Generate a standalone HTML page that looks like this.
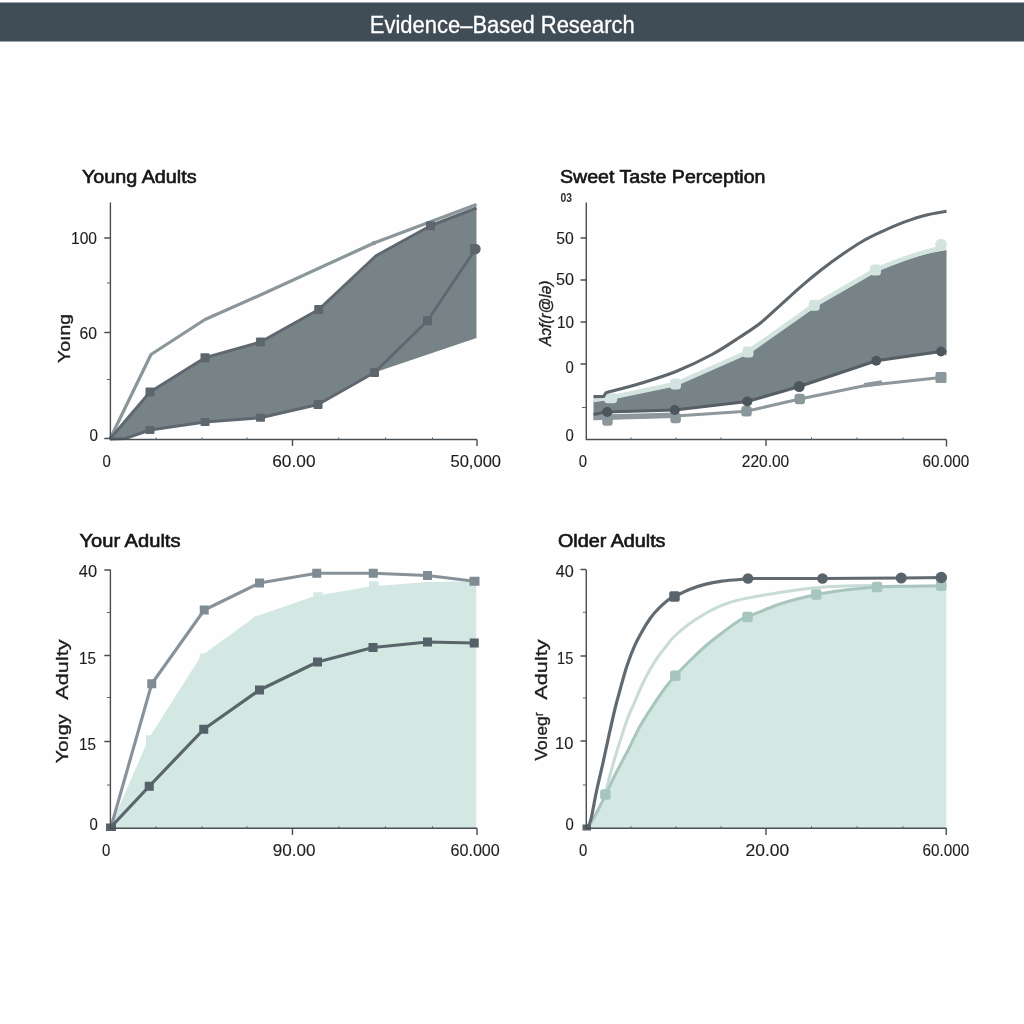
<!DOCTYPE html>
<html><head><meta charset="utf-8">
<style>
html,body{margin:0;padding:0;background:#fefefe;}
body{width:1024px;height:1024px;overflow:hidden;font-family:"Liberation Sans",sans-serif;}
svg{display:block;}
text{font-family:"Liberation Sans",sans-serif;}
.t{font-size:18px;fill:#141414;stroke:#141414;stroke-width:0.6px;}
.l{font-size:16px;fill:#1e1e1e;stroke:#1e1e1e;stroke-width:0.12px;}
.yl{font-size:17px;fill:#1c1c1c;stroke:#1c1c1c;stroke-width:0.32px;}
.ax{stroke:#474f54;stroke-width:1.4;fill:none;}
.mt{stroke:#5a6267;stroke-width:1;fill:none;}
</style></head><body>
<svg width="1024" height="1024" viewBox="0 0 1024 1024">
<defs><filter id="soft" x="-10" y="-10" width="1044" height="1044" filterUnits="userSpaceOnUse"><feGaussianBlur stdDeviation="0.4"/></filter></defs>
<g filter="url(#soft)">
<rect x="-10" y="-10" width="1044" height="1044" fill="#fefefe"/>
<rect x="-10" y="2.5" width="1044" height="39" fill="#414d56"/>
<text x="369.8" y="33" font-size="23" fill="#ffffff" stroke="#ffffff" stroke-width="0.3" textLength="265" lengthAdjust="spacingAndGlyphs">Evidence‒Based Research</text>

<g id="c1">
<text class="t" x="82" y="183" textLength="114.5" lengthAdjust="spacingAndGlyphs">Young Adults</text>
<polygon fill="#788388" points="110.00,439.00 150.00,392.00 205.00,357.75 260.50,342.00 318.75,309.50 376.00,255.75 430.50,225.75 476.50,208.00 476.50,338.00 374.50,372.50 318.00,404.50 260.50,417.75 205.00,422.00 150.00,430.00 125.00,438.50"/>
<polyline fill="none" stroke="#8b969a" stroke-width="3.2" stroke-linejoin="round" points="110.00,439.00 151.00,354.50 205.00,319.50 258.75,295.75 374.00,243.00 476.50,204.50"/>
<polyline fill="none" stroke="#5f686f" stroke-width="3" stroke-linejoin="round" points="110.00,439.00 150.00,392.00 205.00,357.75 260.50,342.00 318.75,309.50 376.00,255.75 430.50,225.75 476.50,208.00"/>
<polyline fill="none" stroke="#5f686f" stroke-width="3" stroke-linejoin="round" points="110.00,439.00 125.00,438.50 150.00,430.00 205.00,422.00 260.50,417.75 318.00,404.50 374.50,372.50 427.50,320.75 475.50,249.00"/>
<g fill="#5d666d"><rect x="145.50" y="387.50" width="9.00" height="9.00" rx="1.0"/><rect x="200.50" y="353.25" width="9.00" height="9.00" rx="1.0"/><rect x="256.00" y="337.50" width="9.00" height="9.00" rx="1.0"/><rect x="314.25" y="305.00" width="9.00" height="9.00" rx="1.0"/><rect x="426.00" y="221.25" width="9.00" height="9.00" rx="1.0"/><rect x="145.50" y="426.00" width="9.00" height="8.00" rx="1.0"/><rect x="200.50" y="418.00" width="9.00" height="8.00" rx="1.0"/><rect x="256.00" y="413.75" width="9.00" height="8.00" rx="1.0"/><rect x="313.50" y="400.00" width="9.00" height="9.00" rx="1.0"/><rect x="370.00" y="368.00" width="9.00" height="9.00" rx="1.0"/><rect x="423.00" y="316.25" width="9.00" height="9.00" rx="1.0"/><circle cx="475.50" cy="249.00" r="5.20"/><rect x="470" y="244" width="7" height="10"/></g>
<g fill="#8b969a"><circle cx="374.00" cy="243.00" r="2.20"/></g>
<path class="ax" d="M110.4,202.5V439.5H477"/>
<path class="ax" d="M104.3,238H110M104.3,332.5H110M104.3,438.5H110M292.5,439.5V446M477,439.5V446"/>
<path class="mt" d="M107,283H110M107,379.5H110M156,437.4V439.5M202,437.4V439.5M247,437.4V439.5M338.75,437.4V439.5M385.5,437.4V439.5M432.5,437.4V439.5"/>
<text class="l" x="71" y="244" textLength="26" lengthAdjust="spacingAndGlyphs">100</text>
<text class="l" x="79.5" y="338.5" textLength="17.5" lengthAdjust="spacingAndGlyphs">60</text>
<text class="l" x="89.5" y="440.6" textLength="8.5" lengthAdjust="spacingAndGlyphs">0</text>
<text class="l" x="102.5" y="466.5" textLength="8.3" lengthAdjust="spacingAndGlyphs">0</text>
<text class="l" x="272.25" y="466.5" textLength="43.25" lengthAdjust="spacingAndGlyphs">60.00</text>
<text class="l" x="450.5" y="466.5" textLength="50.5" lengthAdjust="spacingAndGlyphs">50,000</text>
<text class="yl" font-size="18.5" transform="translate(69.8,363) rotate(-90)" textLength="49" lengthAdjust="spacingAndGlyphs">Yoıng</text>
</g>

<g id="c2">
<text class="t" x="560" y="182.5" textLength="205.5" lengthAdjust="spacingAndGlyphs">Sweet Taste Perception</text>
<text x="560.5" y="202.3" font-size="13.5" font-weight="bold" fill="#2e2e2e" textLength="11.5" lengthAdjust="spacingAndGlyphs">03</text>
<path fill="#788388" d="M593.50,400.00 L611.00,397.50 L675.50,384.00 L748.00,352.00 L814.25,305.25 L875.50,270.00 Q915,255 946.5,250 L946.5,355.75 L941.00,351.50 L876.25,360.75 L799.25,386.50 L747.25,401.50 L674.75,410.00 L607.25,412.00 L593.50,414.50 Z"/>
<polyline fill="none" stroke="#8e989c" stroke-width="3" stroke-linejoin="round" points="593.50,418.20 607.50,418.00 675.50,416.00 746.50,411.25 799.75,399.00 864.25,385.75 941.00,377.50"/>
<polyline fill="none" stroke="#8e989c" stroke-width="4.5" points="864.25,385.25 882,382.5"/>
<polyline fill="none" stroke="#8e989c" stroke-width="5.5" points="593.5,417.6 675.5,415.2"/>
<g fill="#8a979b"><rect x="602.25" y="415.25" width="10.50" height="10.50" rx="3.0"/><rect x="670.35" y="412.75" width="10.50" height="10.50" rx="3.0"/><rect x="741.25" y="406.00" width="10.50" height="10.50" rx="3.0"/><rect x="794.50" y="393.75" width="10.50" height="10.50" rx="3.0"/><rect x="935.50" y="372.00" width="11.00" height="11.00" rx="1.5"/></g>
<polyline fill="none" stroke="#555e65" stroke-width="3.2" stroke-linejoin="round" points="593.50,414.50 607.25,412.00 674.75,410.00 747.25,401.50 799.25,386.50 876.25,360.75 941.00,351.50 946.50,351.50"/>
<g fill="#4d565d"><circle cx="607.25" cy="412.00" r="5.10"/><circle cx="674.75" cy="410.00" r="5.10"/><circle cx="747.25" cy="401.50" r="5.10"/><circle cx="799.25" cy="386.50" r="5.50"/><circle cx="876.25" cy="360.75" r="4.90"/><circle cx="941.00" cy="351.50" r="4.90"/></g>
<path fill="none" stroke="#d3e3df" stroke-width="4.6" stroke-linejoin="round" d="M593.50,400.00 L611.00,397.50 L675.50,384.00 L748.00,352.00 L814.25,305.25 L875.50,270.00 Q915,253 946,247"/>
<g fill="#d3e3df"><rect x="604.10" y="393.20" width="13.00" height="10.00" rx="3.5"/><rect x="670.00" y="378.50" width="11.00" height="11.00" rx="3.5"/><rect x="742.50" y="346.50" width="11.00" height="11.00" rx="3.5"/><rect x="808.75" y="299.75" width="11.00" height="11.00" rx="3.5"/><rect x="870.00" y="264.50" width="11.00" height="11.00" rx="3.5"/><circle cx="941.00" cy="244.50" r="5.80"/></g>
<path fill="none" stroke="#5e666c" stroke-width="3.1" d="M593.5,396.6 L603.6,396.4 L606.00,392.75 C611.67,391.21 628.33,387.04 640.00,383.50 C651.67,379.96 664.00,376.33 676.00,371.50 C688.00,366.67 701.33,360.25 712.00,354.50 C722.67,348.75 731.92,342.25 740.00,337.00 C748.08,331.75 753.67,328.40 760.50,323.00 C767.33,317.60 774.17,310.75 781.00,304.60 C787.83,298.45 794.67,291.98 801.50,286.10 C808.33,280.22 815.17,274.60 822.00,269.30 C828.83,264.00 835.67,259.02 842.50,254.30 C849.33,249.58 856.15,244.92 863.00,241.00 C869.85,237.08 876.77,233.95 883.60,230.80 C890.43,227.65 897.17,224.67 904.00,222.10 C910.83,219.53 917.52,217.20 924.60,215.40 C931.68,213.60 942.85,211.98 946.50,211.30"/>
<path class="ax" d="M586.3,202.5V439.5H946.5"/>
<path class="ax" d="M580.5,238H586M580.5,280H586M580.5,322H586M580.5,364H586M766,439.5V446M946.5,439.5V446.5"/>
<path class="mt" d="M582,407.5H586M631,437.4V439.5M676,437.4V439.5M721,437.4V439.5M811.5,437.4V439.5M857,437.4V439.5M903,437.4V439.5"/>
<text class="l" x="556.25" y="244.25" textLength="17.5" lengthAdjust="spacingAndGlyphs">50</text>
<text class="l" x="556" y="285.25" textLength="18" lengthAdjust="spacingAndGlyphs">50</text>
<text class="l" x="557" y="328" textLength="17" lengthAdjust="spacingAndGlyphs">10</text>
<text class="l" x="565.5" y="373" textLength="8.3" lengthAdjust="spacingAndGlyphs">0</text>
<text class="l" x="565.5" y="440.5" textLength="8.3" lengthAdjust="spacingAndGlyphs">0</text>
<text class="l" x="578.75" y="466.5" textLength="8.3" lengthAdjust="spacingAndGlyphs">0</text>
<text class="l" x="741.75" y="466.5" textLength="47.5" lengthAdjust="spacingAndGlyphs">220.00</text>
<text class="l" x="922.5" y="466.5" textLength="46.75" lengthAdjust="spacingAndGlyphs">60.000</text>
<text class="yl" font-size="15" font-style="italic" transform="translate(551,346) rotate(-90)" textLength="65.5" lengthAdjust="spacingAndGlyphs">Aɔf(r@lə)</text>
</g>

<g id="c3">
<text class="t" x="79.5" y="547.25" textLength="101" lengthAdjust="spacingAndGlyphs">Your Adults</text>
<polygon fill="#d3e7e3" points="110.00,828.00 149.00,738.00 201.00,656.00 255.50,616.50 315.00,596.00 370.00,586.50 427.50,582.00 476.25,581.25 476.25,828.00"/>
<g fill="#d3e7e3"><rect x="146.00" y="735.30" width="9.40" height="9.40" rx="0.0"/><rect x="199.70" y="653.60" width="9.40" height="9.40" rx="0.0"/><rect x="254.30" y="616.30" width="9.40" height="9.40" rx="0.0"/><rect x="313.30" y="592.30" width="9.40" height="9.40" rx="0.0"/><rect x="369.05" y="581.30" width="9.40" height="9.40" rx="0.0"/></g>
<polyline fill="none" stroke="#87929a" stroke-width="3.1" stroke-linejoin="round" points="111.00,827.00 151.75,683.75 204.25,610.00 259.50,583.00 316.75,573.25 373.25,573.25 427.50,575.50 474.50,581.25"/>
<g fill="#808c93"><rect x="147.25" y="679.25" width="9.00" height="9.00" rx="0.0"/><rect x="199.75" y="605.50" width="9.00" height="9.00" rx="0.0"/><rect x="255.00" y="578.50" width="9.00" height="9.00" rx="0.0"/><rect x="312.25" y="568.75" width="9.00" height="9.00" rx="0.0"/><rect x="368.75" y="568.75" width="9.00" height="9.00" rx="0.0"/><rect x="423.00" y="571.00" width="9.00" height="9.00" rx="0.0"/><rect x="469.50" y="576.75" width="10.00" height="9.00" rx="0.0"/></g>
<polyline fill="none" stroke="#5a656b" stroke-width="3.2" stroke-linejoin="round" points="111.00,827.00 149.25,786.25 203.75,729.25 259.50,690.00 317.50,662.00 373.00,647.50 427.50,642.00 474.25,643.00"/>
<g fill="#57626a"><rect x="144.75" y="781.75" width="9.00" height="9.00" rx="0.0"/><rect x="199.25" y="724.75" width="9.00" height="9.00" rx="0.0"/><rect x="255.00" y="685.50" width="9.00" height="9.00" rx="0.0"/><rect x="313.00" y="657.50" width="9.00" height="9.00" rx="0.0"/><rect x="368.50" y="643.00" width="9.00" height="9.00" rx="0.0"/><rect x="423.00" y="637.50" width="9.00" height="9.00" rx="0.0"/><rect x="469.75" y="638.50" width="9.00" height="9.00" rx="0.0"/><rect x="106" y="823.5" width="10" height="7.5"/></g>
<path class="ax" d="M110.4,569.5V828.3H477"/>
<path class="ax" d="M104.3,570H110M104.3,655.5H110M104.3,741.5H110M292.5,828.25V835M477,828.25V835"/>
<path class="mt" d="M107,612.5H110M107,697.5H110M107,785H110M156,826.2V828.25M202,826.2V828.25M247,826.2V828.25M338.75,826.2V828.25M385.5,826.2V828.25M432.5,826.2V828.25"/>
<text class="l" x="78.75" y="577.25" textLength="18.25" lengthAdjust="spacingAndGlyphs">40</text>
<text class="l" x="78.9" y="663.5" textLength="17" lengthAdjust="spacingAndGlyphs">15</text>
<text class="l" x="78.9" y="750.25" textLength="17" lengthAdjust="spacingAndGlyphs">15</text>
<text class="l" x="89.5" y="830" textLength="8.3" lengthAdjust="spacingAndGlyphs">0</text>
<text class="l" x="102" y="856.25" textLength="8.3" lengthAdjust="spacingAndGlyphs">0</text>
<text class="l" x="272.75" y="856.25" textLength="42.75" lengthAdjust="spacingAndGlyphs">90.00</text>
<text class="l" x="450.5" y="856.25" textLength="49.25" lengthAdjust="spacingAndGlyphs">60.000</text>
<text class="yl" transform="translate(68,763.2) rotate(-90)" textLength="49" lengthAdjust="spacingAndGlyphs">Yoıgy</text>
<text class="yl" transform="translate(68,699.8) rotate(-90)" textLength="60.5" lengthAdjust="spacingAndGlyphs">Adulty</text>
</g>

<g id="c4">
<text class="t" x="558" y="547.25" textLength="107.5" lengthAdjust="spacingAndGlyphs">Older Adults</text>
<path fill="#d3e7e3" d="M588.00,827.00 C588.96,825.50 590.82,823.33 593.75,818.00 C596.68,812.67 602.06,802.17 605.60,795.00 C609.14,787.83 611.35,782.29 615.00,775.00 C618.65,767.71 623.33,759.38 627.50,751.25 C631.67,743.12 635.83,733.75 640.00,726.25 C644.17,718.75 648.25,712.71 652.50,706.25 C656.75,699.79 661.70,692.58 665.50,687.50 C669.30,682.42 671.32,680.17 675.30,675.80 C679.28,671.43 684.45,666.18 689.40,661.30 C694.35,656.42 699.80,651.05 705.00,646.50 C710.20,641.95 714.77,638.42 720.60,634.00 C726.43,629.58 735.52,622.83 740.00,620.00 C744.48,617.17 740.83,619.67 747.50,617.00 C754.17,614.33 768.54,607.75 780.00,604.00 C791.46,600.25 805.42,596.83 816.25,594.50 C827.08,592.17 834.88,591.25 845.00,590.00 C855.12,588.75 866.17,587.63 877.00,587.00 C887.83,586.37 898.46,586.41 910.00,586.20 C921.54,585.99 940.21,585.83 946.25,585.75 L946.25,828 L588,828 Z"/>
<path fill="none" stroke="#c8dbd6" stroke-width="3" d="M605.40,794.40 C605.96,792.00 607.15,786.15 608.75,780.00 C610.35,773.85 612.92,764.58 615.00,757.50 C617.08,750.42 619.17,743.96 621.25,737.50 C623.33,731.04 625.26,724.67 627.50,718.75 C629.74,712.83 632.20,707.79 634.70,702.00 C637.20,696.21 639.90,689.50 642.50,684.00 C645.10,678.50 647.70,673.57 650.30,669.00 C652.90,664.43 655.48,660.35 658.10,656.60 C660.72,652.85 663.39,649.77 666.00,646.50 C668.61,643.23 669.85,640.78 673.75,637.00 C677.65,633.22 684.19,627.68 689.40,623.80 C694.61,619.92 699.80,616.70 705.00,613.70 C710.20,610.70 714.77,608.15 720.60,605.80 C726.43,603.45 730.10,601.82 740.00,599.60 C749.90,597.38 767.92,594.43 780.00,592.50 C792.08,590.57 801.67,589.08 812.50,588.00 C823.33,586.92 833.75,586.42 845.00,586.00 C856.25,585.58 874.17,585.58 880.00,585.50"/>
<path fill="none" stroke="#a8c5be" stroke-width="3" d="M588.00,827.00 C588.96,825.50 590.82,823.33 593.75,818.00 C596.68,812.67 602.06,802.17 605.60,795.00 C609.14,787.83 611.35,782.29 615.00,775.00 C618.65,767.71 623.33,759.38 627.50,751.25 C631.67,743.12 635.83,733.75 640.00,726.25 C644.17,718.75 648.25,712.71 652.50,706.25 C656.75,699.79 661.70,692.58 665.50,687.50 C669.30,682.42 671.32,680.17 675.30,675.80 C679.28,671.43 684.45,666.18 689.40,661.30 C694.35,656.42 699.80,651.05 705.00,646.50 C710.20,641.95 714.77,638.42 720.60,634.00 C726.43,629.58 735.52,622.83 740.00,620.00 C744.48,617.17 740.83,619.67 747.50,617.00 C754.17,614.33 768.54,607.75 780.00,604.00 C791.46,600.25 805.42,596.83 816.25,594.50 C827.08,592.17 834.88,591.25 845.00,590.00 C855.12,588.75 866.17,587.63 877.00,587.00 C887.83,586.37 898.46,586.41 910.00,586.20 C921.54,585.99 940.21,585.83 946.25,585.75"/>
<g fill="#a6c5be"><rect x="600.15" y="789.15" width="10.50" height="10.50" rx="2.5"/><rect x="670.05" y="670.55" width="10.50" height="10.50" rx="2.5"/><rect x="742.25" y="611.75" width="10.50" height="10.50" rx="2.5"/><rect x="811.00" y="589.25" width="10.50" height="10.50" rx="2.5"/><rect x="871.75" y="581.75" width="10.50" height="10.50" rx="2.5"/><rect x="936.00" y="580.50" width="10.50" height="10.50" rx="2.5"/></g>
<path fill="none" stroke="#606a70" stroke-width="3.2" d="M588.00,827.00 C588.54,825.50 589.88,823.75 591.25,818.00 C592.62,812.25 594.38,801.33 596.25,792.50 C598.12,783.67 600.42,774.38 602.50,765.00 C604.58,755.62 606.67,745.62 608.75,736.25 C610.83,726.88 613.12,716.46 615.00,708.75 C616.88,701.04 618.02,697.12 620.00,690.00 C621.98,682.88 624.45,673.38 626.90,666.00 C629.35,658.62 632.10,651.57 634.70,645.70 C637.30,639.83 639.90,635.37 642.50,630.80 C645.10,626.23 647.70,621.93 650.30,618.30 C652.90,614.67 655.23,611.98 658.10,609.00 C660.97,606.02 664.77,602.48 667.50,600.40 C670.23,598.32 670.85,598.33 674.50,596.50 C678.15,594.67 684.32,591.42 689.40,589.40 C694.48,587.38 699.80,585.75 705.00,584.40 C710.20,583.05 714.77,582.12 720.60,581.30 C726.43,580.48 735.43,579.97 740.00,579.50 C744.57,579.03 746.67,578.67 748.00,578.50 L822.50,578.50 L901.25,578.00 L946.00,577.50"/>
<g fill="#59636a"><rect x="669.25" y="591.25" width="10.50" height="10.50" rx="2.0"/><circle cx="748.00" cy="578.50" r="5.30"/><circle cx="822.50" cy="578.50" r="5.30"/><circle cx="901.25" cy="578.00" r="5.50"/><circle cx="941.25" cy="577.50" r="5.80"/><rect x="582.5" y="824.5" width="8.5" height="6"/></g>
<path class="ax" d="M586.3,569.5V828.3H946.5"/>
<path class="ax" d="M580.5,569.5H586M580.5,656H586M580.5,741H586M766,828.25V835M946.25,828.25V835"/>
<path class="mt" d="M583,612.25H586M583,698H586M583,785H586M631,826.2V828.25M676,826.2V828.25M721,826.2V828.25M811.5,826.2V828.25M857,826.2V828.25M903,826.2V828.25"/>
<text class="l" x="555.75" y="577.25" textLength="18" lengthAdjust="spacingAndGlyphs">40</text>
<text class="l" x="557" y="664" textLength="16.25" lengthAdjust="spacingAndGlyphs">15</text>
<text class="l" x="555" y="749.25" textLength="18.25" lengthAdjust="spacingAndGlyphs">10</text>
<text class="l" x="565.5" y="830" textLength="8.3" lengthAdjust="spacingAndGlyphs">0</text>
<text class="l" x="579" y="856.1" textLength="8.3" lengthAdjust="spacingAndGlyphs">0</text>
<text class="l" x="745.5" y="856.1" textLength="43.75" lengthAdjust="spacingAndGlyphs">20.00</text>
<text class="l" x="922.5" y="856.1" textLength="46.75" lengthAdjust="spacingAndGlyphs">60.000</text>
<text class="yl" transform="translate(546.7,760.6) rotate(-90)" textLength="48.5" lengthAdjust="spacingAndGlyphs">Voıegʳ</text>
<text class="yl" transform="translate(546.7,699.8) rotate(-90)" textLength="60.5" lengthAdjust="spacingAndGlyphs">Adulty</text>
</g>
</g>
</svg>
</body></html>
